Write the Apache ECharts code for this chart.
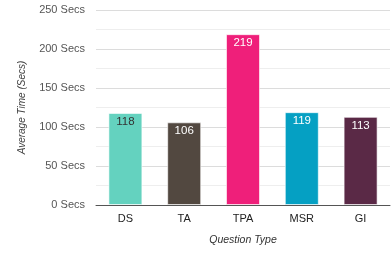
<!DOCTYPE html>
<html lang="en">
<head>
    <meta charset="utf-8">
    <title>Average Time by Question Type</title>
    <script type="text/javascript" src="https://cdn.jsdelivr.net/npm/echarts@6/dist/echarts.min.js"></script>
    <style>
        html, body { margin: 0; padding: 0; background: #fff; }
        #chart { width: 391px; height: 256px; }
    </style>
</head>
<body>
<div id="chart"></div>
<script type="text/javascript">
    // 数据
    var categories = ['DS', 'TA', 'TPA', 'MSR', 'GI'];
    var values = [118, 106, 219, 119, 113];
    var barColors = ['#64d2bf', '#524840', '#ef1f7a', '#05a0c3', '#5a2946'];
    var labelColors = ['#333333', '#ffffff', '#ffffff', '#ffffff', '#ffffff'];

    var chart = echarts.init(document.getElementById('chart'));

    var data = [];
    for (var i = 0; i < values.length; i++) {
        data.push({
            value: values[i],
            itemStyle: { color: barColors[i] },
            label: { color: labelColors[i] }
        });
    }

    var option = {
        animation: false,
        grid: { left: 96, right: 1, top: 10, bottom: 51 },
        xAxis: {
            type: 'category',
            data: categories,
            name: 'Question Type',
            nameLocation: 'middle',
            nameGap: 30,
            nameTextStyle: { fontStyle: 'italic', fontSize: 10.5, color: '#333', fontFamily: 'Liberation Sans' },
            axisLine: { lineStyle: { color: '#555', width: 1 } },
            axisTick: { show: false },
            axisLabel: { color: '#222', fontSize: 11, margin: 8, fontFamily: 'Liberation Sans' }
        },
        yAxis: {
            type: 'value',
            min: 0,
            max: 250,
            interval: 50,
            name: 'Average Time (Secs)',
            nameLocation: 'middle',
            nameGap: 69,
            nameTextStyle: { fontStyle: 'italic', fontSize: 10, color: '#444', fontFamily: 'Liberation Sans' },
            axisLine: { show: false },
            axisTick: { show: false },
            axisLabel: { formatter: '{value} Secs', color: '#555', fontSize: 11, margin: 11, fontFamily: 'Liberation Sans' },
            splitLine: { lineStyle: { color: '#dcdcdc', width: 1 } },
            minorTick: { show: false, splitNumber: 2 },
            minorSplitLine: { show: true, lineStyle: { color: '#eeeeee', width: 1 } }
        },
        series: [{
            type: 'bar',
            data: data,
            barWidth: 34,
            itemStyle: { borderColor: 'rgba(255,255,255,0.6)', borderWidth: 1 },
            label: {
                show: true,
                position: 'insideTop',
                distance: 3,
                fontSize: 11.5,
                fontFamily: 'Liberation Sans'
            }
        }]
    };

    chart.setOption(option);
</script>
</body>
</html>
